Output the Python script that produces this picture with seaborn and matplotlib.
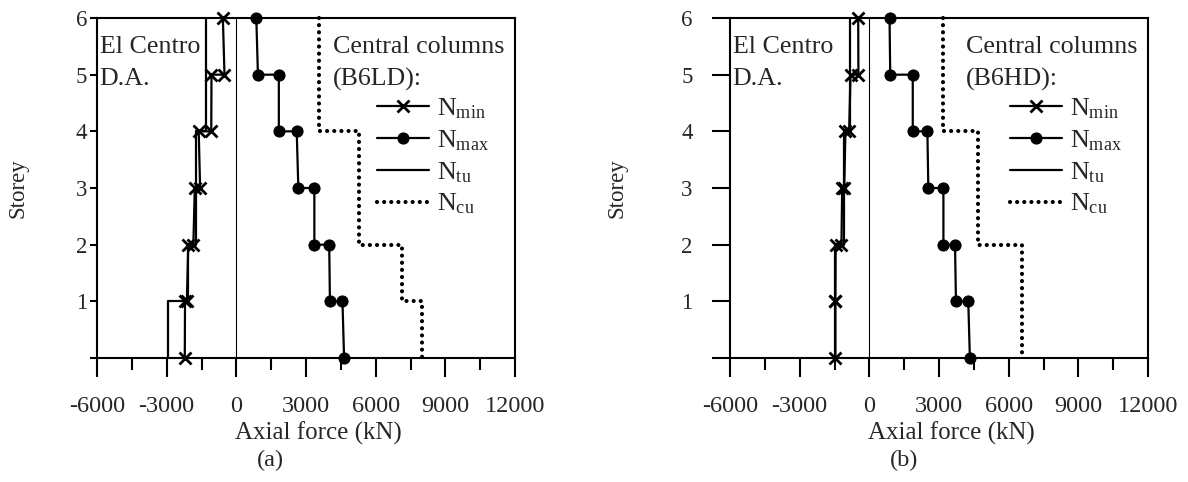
import matplotlib
matplotlib.use("Agg")
import matplotlib.pyplot as plt
import seaborn as sns

# storey levels of each point along the stepped curves
storey_steps = [6, 5, 5, 4, 4, 3, 3, 2, 2, 1, 1, 0]
cap_storeys_a = [6, 4, 4, 2, 2, 1, 1, 0]
cap_storeys_b = [6, 4, 4, 2, 2, 0]

# (a) B6LD
nmin_a = [-580, -510, -1070, -1080, -1620, -1560, -1790, -1850, -2070, -2130, -2210, -2220]
nmax_a = [860, 930, 1830, 1830, 2600, 2670, 3360, 3360, 4000, 4030, 4570, 4640]
ntu_a = [-1290, -1290, -1750, -1750, -2100, -2100, -2930, -2930]
ncu_a = [3540, 3540, 5290, 5290, 7150, 7150, 8000, 8000]

# (b) B6HD
nmin_b = [-480, -470, -810, -870, -1030, -1080, -1170, -1200, -1450, -1460, -1460, -1460]
nmax_b = [870, 900, 1870, 1870, 2500, 2540, 3190, 3190, 3690, 3730, 4260, 4330]
ntu_b = [-830, -830, -1100, -1100, -1460, -1460]
ncu_b = [3190, 3190, 4660, 4660, 6590, 6590]

panels = [
    ("(B6LD):", "(a)", nmin_a, nmax_a, ntu_a, ncu_a, cap_storeys_a),
    ("(B6HD):", "(b)", nmin_b, nmax_b, ntu_b, ncu_b, cap_storeys_b),
]

x_ticks = [-6000, -3000, 0, 3000, 6000, 9000, 12000]
x_minor = [-4500, -1500, 1500, 4500, 7500, 10500]

sns.set_theme(style="ticks")
plt.rcParams["font.family"] = ["Liberation Serif", "DejaVu Serif"]
plt.rcParams["mathtext.fontset"] = "custom"
plt.rcParams["mathtext.rm"] = "Liberation Serif"
plt.rcParams["mathtext.it"] = "Liberation Serif:italic"
plt.rcParams["axes.unicode_minus"] = False

FS = 16.5
XS = 17.5
TS = 18.7
fig = plt.figure(figsize=(11.88, 4.82), dpi=100)
lefts = [97 / 1188, 730 / 1188]
# per panel: y tick length, y tick pad, y label right edge (axes fraction)
ystyle = [(5, 2, -0.165), (13, 14, -0.245)]

for (tag, letter, nmin, nmax, ntu, ncu, cap_st), left, (ylen, ypad, ylab_x) in zip(panels, lefts, ystyle):
    ax = fig.add_axes([left, 1 - 358 / 482, 418 / 1188, 340 / 482])

    ax.axvline(0, color="black", linewidth=0.8, zorder=1)
    sns.lineplot(x=ntu, y=cap_st, sort=False, estimator=None, color="black",
                 linewidth=1.6, ax=ax, label=r"N$_{\mathrm{tu}}$", zorder=2,
                 clip_on=False)
    sns.lineplot(x=ncu, y=cap_st, sort=False, estimator=None, color="black",
                 linewidth=3.0, linestyle=(0, (0.01, 1.7)), dash_capstyle="round",
                 ax=ax, label=r"N$_{\mathrm{cu}}$", zorder=2, clip_on=False)
    sns.lineplot(x=nmin, y=storey_steps, sort=False, estimator=None, color="black",
                 linewidth=1.6, marker="x", markersize=8, markeredgewidth=2,
                 markeredgecolor="black", ax=ax, label=r"N$_{\mathrm{min}}$", zorder=3,
                 clip_on=False)
    sns.lineplot(x=nmax, y=storey_steps, sort=False, estimator=None, color="black",
                 linewidth=1.6, marker="o", markersize=8, markeredgecolor="black",
                 ax=ax, label=r"N$_{\mathrm{max}}$", zorder=3, clip_on=False)

    ax.set_xlim(-6000, 12000)
    ax.set_ylim(0, 6)
    ax.set_xticks(x_ticks)
    ax.set_xticklabels([str(v) for v in x_ticks], fontsize=XS)
    ax.set_xticks(x_minor, minor=True)
    ax.set_yticks(range(0, 7))
    ax.set_yticklabels([""] + [str(v) for v in range(1, 7)], fontsize=FS)
    ax.tick_params(axis="x", which="major", length=14, width=1.5, pad=13, color="black")
    ax.tick_params(axis="x", which="minor", length=8.5, width=1.5, color="black")
    ax.tick_params(axis="y", length=ylen, width=1.5, pad=ypad, color="black")
    for sp in ax.spines.values():
        sp.set_visible(True)
        sp.set_linewidth(1.5)
        sp.set_color("black")

    ax.set_xlabel("Axial force (kN)", fontsize=XS + 0.5)
    ax.xaxis.set_label_coords(0.53, -0.188)
    ax.set_ylabel("Storey", fontsize=FS)
    ax.yaxis.set_label_coords(ylab_x, 0.5)

    ax.text(0.006, 0.915, "El Centro", transform=ax.transAxes, fontsize=TS,
            va="center", ha="left")
    ax.text(0.006, 0.82, "D.A.", transform=ax.transAxes, fontsize=TS,
            va="center", ha="left")
    ax.text(0.565, 0.915, "Central columns", transform=ax.transAxes, fontsize=TS,
            va="center", ha="left")
    ax.text(0.565, 0.82, tag, transform=ax.transAxes, fontsize=TS,
            va="center", ha="left")
    ax.text(0.416, -0.30, letter, transform=ax.transAxes, fontsize=XS,
            va="center", ha="center")

    handles, labels = ax.get_legend_handles_labels()
    order = [2, 3, 0, 1]
    ax.legend([handles[i] for i in order], [labels[i] for i in order],
              loc="upper left", bbox_to_anchor=(0.67, 0.77), frameon=False,
              fontsize=TS, handlelength=2.0, handletextpad=0.3,
              labelspacing=0.28, borderpad=0, borderaxespad=0)

fig.savefig("out.png", dpi=100)
